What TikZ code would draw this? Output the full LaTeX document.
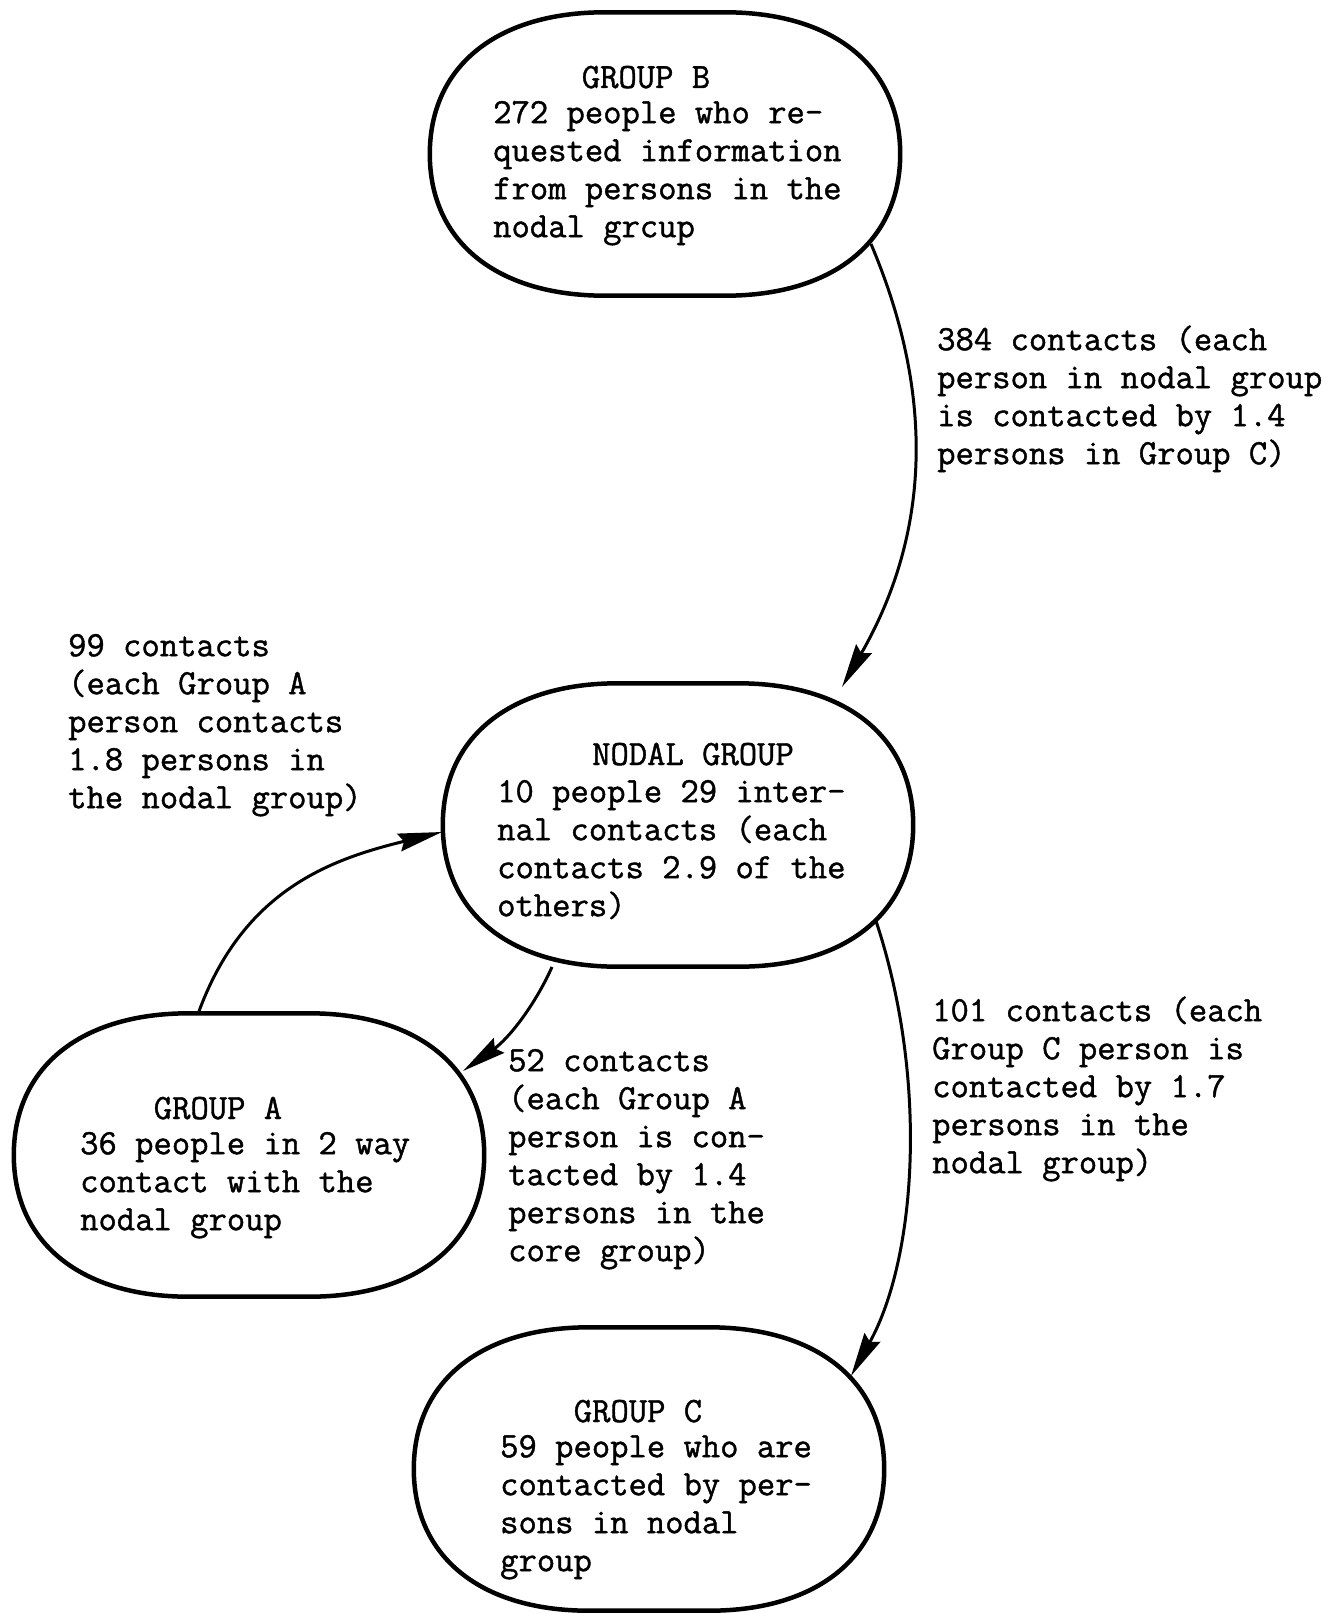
\documentclass[tikz,border=0pt]{standalone}
\usepackage{fontspec}
\usetikzlibrary{arrows.meta,calc}
\newfontfamily\twfam{Latin Modern Mono}[FakeBold=1.2]
\newcommand{\twfont}{\fontsize{35.6pt}{38pt}\selectfont\twfam}
\newcommand{\fstrut}{\rule{0pt}{28pt}}
\newcommand{\stadium}[1]{%
  \draw[shp] ($(#1.north)+(-60,0)$) -- ($(#1.north)+(60,0)$)
    .. controls +(108,0) and +(0,-88) .. (#1.east)
    .. controls +(0,88) and +(108,0) .. ($(#1.south)+(60,0)$)
    -- ($(#1.south)+(-60,0)$)
    .. controls +(-108,0) and +(0,88) .. (#1.west)
    .. controls +(0,-88) and +(-108,0) .. cycle;}
\begin{document}
\begin{tikzpicture}[x=1pt,y=-1pt,
  grp/.style={minimum width=470pt, minimum height=283pt, inner sep=0pt},
  shp/.style={line width=4.5pt, line join=round},
  txt/.style={font=\twfont, align=left, inner sep=0pt, anchor=north west},
  ttl/.style={font=\twfont, inner sep=0pt, anchor=base},
  arr/.style={line width=3pt, -{Stealth[length=44pt,width=18pt,inset=5pt]}}]
\useasboundingbox (0,0) rectangle (1333,1613);
\fill[white] (0,0) rectangle (1333,1613);

\node[grp] (B) at (665,154) {};
\node[grp] (N) at (678,825) {};
\node[grp] (A) at (249,1155) {};
\node[grp] (C) at (649,1469) {};
\stadium{B}
\stadium{N}
\stadium{A}
\stadium{C}

\node[ttl] (Bt) at (646,88) {GROUP B};
\node[txt] (Bb) at (493,95) {\fstrut 272 people who re-\\quested information\\from persons in the\\nodal grcup};

\node[ttl] (Nt) at (693,765) {NODAL GROUP};
\node[txt] (Nb) at (497,774) {\fstrut 10 people 29 inter-\\nal contacts (each\\contacts 2.9 of the\\others)};

\node[ttl] (At) at (218,1119) {GROUP A};
\node[txt] (Ab) at (80,1126) {\fstrut 36 people in 2 way\\contact with the\\nodal group};

\node[ttl] (Ct) at (638,1422) {GROUP C};
\node[txt] (Cb) at (500,1429) {\fstrut 59 people who are\\contacted by per-\\sons in nodal\\group};

\node[txt] (L99) at (68,628) {\fstrut 99 contacts\\(each Group A\\person contacts\\1.8 persons in\\the nodal group)};
\node[txt] (L384) at (937,322) {\fstrut 384 contacts (each\\person in nodal group\\is contacted by 1.4\\persons in Group C)};
\node[txt] (L101) at (932,993) {\fstrut 101 contacts (each\\Group C person is\\contacted by 1.7\\persons in the\\nodal group)};
\node[txt] (L52) at (508,1043) {\fstrut 52 contacts\\(each Group A\\person is con-\\tacted by 1.4\\persons in the\\core group)};

\draw[arr] ($(B.center)+(206,90)$) .. controls +(67,158) and +(85,-148) .. ($(N.center)+(164,-138)$);
\draw[arr] ($(A.center)+(-51,-141)$) .. controls +(45,-125) and +(-110,27) .. ($(N.center)+(-236,7)$);
\draw[arr] ($(N.center)+(-126,142)$) .. controls +(-18,40) and +(45,-32) .. ($(A.center)+(214,-84)$);
\draw[arr] ($(N.center)+(198,96)$) .. controls +(53,160) and +(65,-117) .. ($(C.center)+(202,-93)$);
\end{tikzpicture}
\end{document}
